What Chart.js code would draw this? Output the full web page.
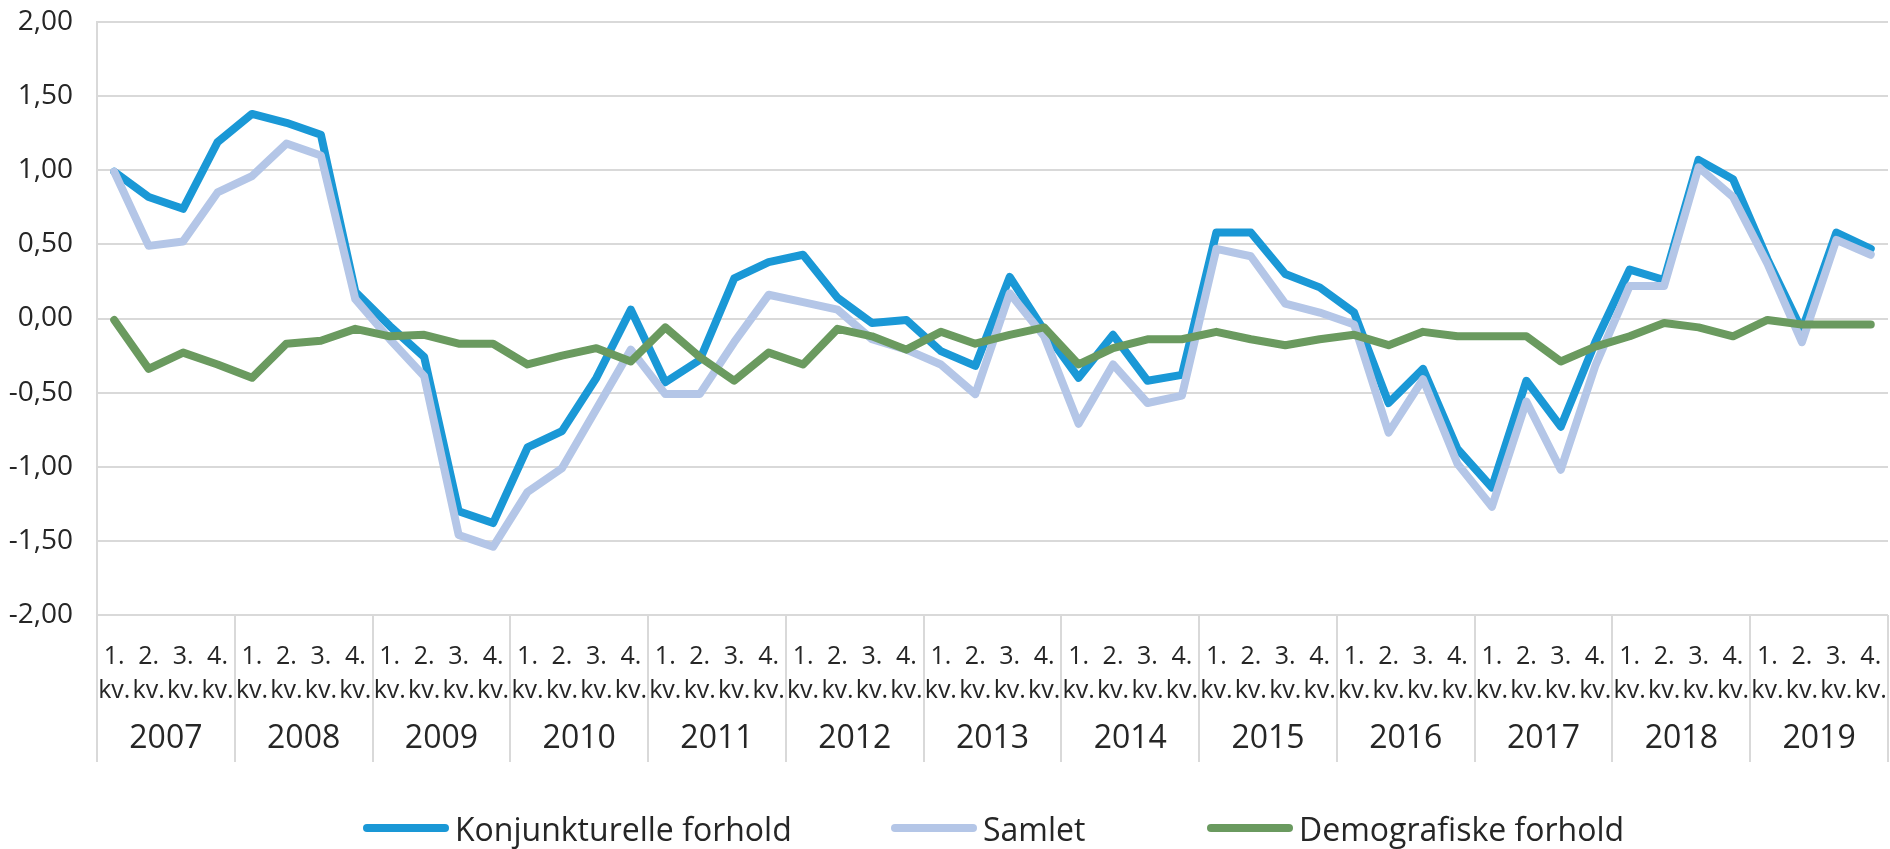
<!DOCTYPE html>
<html>
<head>
<meta charset="utf-8">
<title>Konjunkturelle og demografiske forhold</title>
<script src="https://cdn.jsdelivr.net/npm/chart.js@4.4.1/dist/chart.umd.min.js"></script>
<style>
  html, body { margin: 0; padding: 0; background: #fff; }
  #wrap { position: relative; width: 1890px; height: 849px; overflow: hidden; }
  #legend { position: absolute; left: 0; top: 808px; width: 1890px; height: 40px;
            font-family: 'Open Sans', sans-serif; font-size: 32px; color: #262626; white-space: nowrap; }
  .item { position: absolute; top: 0; height: 40px; display: flex; align-items: center; }
  .line { display: inline-block; width: 86px; height: 8px; border-radius: 4px; margin-right: 6px; }
</style>
</head>
<body>
<div id="wrap">
  <canvas id="chart" width="1890" height="849"></canvas>
  <div id="legend"></div>
</div>
<script>
const kvartaler = ['1.', '2.', '3.', '4.'];
const aar = ['2007', '2008', '2009', '2010', '2011', '2012', '2013', '2014', '2015', '2016', '2017', '2018', '2019'];

const konjunkturelle = [
  0.99, 0.82, 0.74, 1.19,
  1.38, 1.32, 1.24, 0.18,
  -0.05, -0.26, -1.30, -1.38,
  -0.87, -0.76, -0.40, 0.06,
  -0.43, -0.28, 0.27, 0.38,
  0.43, 0.14, -0.03, -0.01,
  -0.22, -0.32, 0.28, -0.08,
  -0.40, -0.11, -0.42, -0.38,
  0.58, 0.58, 0.30, 0.21,
  0.04, -0.57, -0.34, -0.88,
  -1.14, -0.42, -0.73, -0.16,
  0.33, 0.26, 1.07, 0.94,
  0.40, -0.08, 0.58, 0.47
];
const samlet = [
  0.99, 0.49, 0.52, 0.85,
  0.96, 1.18, 1.10, 0.13,
  -0.14, -0.39, -1.46, -1.54,
  -1.17, -1.01, -0.61, -0.21,
  -0.51, -0.51, -0.16, 0.16,
  0.11, 0.06, -0.14, -0.21,
  -0.31, -0.51, 0.17, -0.12,
  -0.71, -0.31, -0.57, -0.52,
  0.47, 0.42, 0.10, 0.04,
  -0.04, -0.77, -0.41, -0.98,
  -1.27, -0.56, -1.02, -0.32,
  0.22, 0.22, 1.02, 0.82,
  0.37, -0.16, 0.53, 0.43
];
const demografiske = [
  -0.01, -0.34, -0.23, -0.31,
  -0.40, -0.17, -0.15, -0.07,
  -0.12, -0.11, -0.17, -0.17,
  -0.31, -0.25, -0.20, -0.29,
  -0.06, -0.26, -0.42, -0.23,
  -0.31, -0.07, -0.12, -0.21,
  -0.09, -0.17, -0.11, -0.06,
  -0.31, -0.20, -0.14, -0.14,
  -0.09, -0.14, -0.18, -0.14,
  -0.11, -0.18, -0.09, -0.12,
  -0.12, -0.12, -0.29, -0.19,
  -0.12, -0.03, -0.06, -0.12,
  -0.01, -0.04, -0.04, -0.04
];
const yTicks = [-2, -1.5, -1, -0.5, 0, 0.5, 1, 1.5, 2];

const gridFarge = '#d9d9d9';
const tekstFarge = '#262626';
const font = "'Open Sans', sans-serif";

// kvartal-etiketter: ['1.', 'kv.'] for hvert år
const etiketter = [];
aar.forEach(() => kvartaler.forEach(k => etiketter.push([k, 'kv.'])));

// skillelinjer mellom årene under x-aksen
const aarLinjer = {
  id: 'aarLinjer',
  afterDraw(chart) {
    const {ctx, chartArea, scales} = chart;
    const x = scales.x;
    const bunn = scales.x2.bottom + 13;
    ctx.save();
    ctx.strokeStyle = gridFarge;
    ctx.lineWidth = 2;
    for (let i = 0; i <= etiketter.length; i += 4) {
      const px = Math.round(x.getPixelForValue(i - 0.5));
      ctx.beginPath();
      ctx.moveTo(px, chartArea.bottom);
      ctx.lineTo(px, bunn);
      ctx.stroke();
    }
    ctx.restore();
  }
};

const datasett = [
  { label: 'Konjunkturelle forhold', data: konjunkturelle, borderColor: '#1a98d6', order: 3 },
  { label: 'Samlet', data: samlet, borderColor: '#b4c6e7', order: 2 },
  { label: 'Demografiske forhold', data: demografiske, borderColor: '#6a9a5f', order: 1 }
].map(d => Object.assign(d, {
  xAxisID: 'x',
  backgroundColor: d.borderColor,
  borderWidth: 8,
  borderJoinStyle: 'round',
  borderCapStyle: 'round',
  pointRadius: 0,
  pointHoverRadius: 0,
  tension: 0,
  fill: false
}));

const ctx = document.getElementById('chart').getContext('2d');
const chart = new Chart(ctx, {
  type: 'line',
  data: { labels: etiketter, datasets: datasett },
  options: {
    responsive: false,
    animation: false,
    layout: { padding: { top: 22, right: 2, bottom: 100, left: 0 } },
    plugins: { legend: { display: false }, tooltip: { enabled: false } },
    scales: {
      x: {
        type: 'category',
        position: 'bottom',
        weight: 0,
        offset: true,
        grid: { display: false },
        border: { display: false },
        ticks: {
          autoSkip: false, maxRotation: 0, minRotation: 0, padding: 17,
          color: tekstFarge, font: { family: font, size: 25, lineHeight: 1.36 }
        },
        afterFit: s => { s.height = 84; s.paddingLeft = 0; s.paddingRight = 0; }
      },
      x2: {
        type: 'category',
        position: 'bottom',
        weight: 1,
        labels: aar,
        offset: true,
        grid: { display: false },
        border: { display: false },
        ticks: {
          autoSkip: false, maxRotation: 0, padding: 13,
          color: tekstFarge, font: { family: font, size: 32, lineHeight: 1.2 }
        },
        afterFit: s => { s.height = 50; s.paddingLeft = 0; s.paddingRight = 0; }
      },
      y: {
        min: -2,
        max: 2,
        grid: { color: gridFarge, lineWidth: 2, drawTicks: false },
        border: { display: true, color: gridFarge, width: 2 },
        afterBuildTicks: s => { s.ticks = yTicks.map(v => ({ value: v })); },
        ticks: {
          padding: 24,
          color: tekstFarge,
          font: { family: font, size: 28 },
          callback: v => v.toFixed(2).replace('.', ',')
        },
        afterFit: s => { s.width = 97; s.paddingTop = 0; s.paddingBottom = 0; }
      }
    }
  },
  plugins: [aarLinjer]
});

// forklaring under diagrammet
const legendVenstre = [363, 891, 1207];
const legend = document.getElementById('legend');
chart.data.datasets.forEach((d, i) => {
  const item = document.createElement('div');
  item.className = 'item';
  item.style.left = legendVenstre[i] + 'px';
  const linje = document.createElement('span');
  linje.className = 'line';
  linje.style.background = d.borderColor;
  const tekst = document.createElement('span');
  tekst.textContent = d.label;
  item.appendChild(linje);
  item.appendChild(tekst);
  legend.appendChild(item);
});
</script>
</body>
</html>
